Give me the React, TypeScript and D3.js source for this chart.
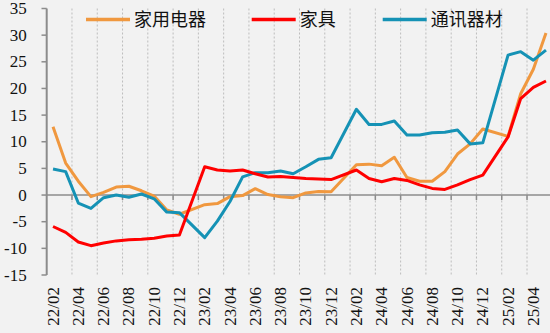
import React from "react";
import * as d3 from "d3";

const months = [
  "22/02","22/03","22/04","22/05","22/06","22/07","22/08","22/09","22/10","22/11","22/12",
  "23/01","23/02","23/03","23/04","23/05","23/06","23/07","23/08","23/09","23/10","23/11","23/12",
  "24/01","24/02","24/03","24/04","24/05","24/06","24/07","24/08","24/09","24/10","24/11","24/12",
  "25/01","25/02","25/03","25/04","25/05",
];

const appliances: (number | null)[] = [
  12.8, 6.0, 2.6, -0.3, 0.5, 1.5, 1.65, 0.8, -0.2, -2.8, -3.6,
  null, -1.8, -1.6, -0.3, -0.1, 1.2, 0.1, -0.3, -0.5, 0.4, 0.65, 0.6,
  null, 5.7, 5.8, 5.5, 7.1, 3.3, 2.6, 2.6, 4.4, 7.7, 9.6, 12.4,
  null, 11.0, 19.0, 23.6, 30.4,
];

const furniture: (number | null)[] = [
  -5.9, -7.0, -8.8, -9.5, -9.0, -8.6, -8.4, -8.3, -8.1, -7.7, -7.5,
  null, 5.3, 4.7, 4.5, 4.7, 4.0, 3.4, 3.5, 3.3, 3.1, 3.0, 2.9,
  null, 4.7, 3.1, 2.5, 3.1, 2.75, 1.9, 1.25, 1.05, 1.9, 2.9, 3.75,
  null, 10.9, 18.1, 20.2, 21.4,
];

const telecom: (number | null)[] = [
  4.9, 4.4, -1.5, -2.5, -0.5, 0.0, -0.4, 0.2, -0.7, -3.2, -3.3,
  null, -8.0, -4.9, -1.2, 3.4, 4.2, 4.2, 4.5, 4.0, 5.3, 6.7, 7.0,
  null, 16.1, 13.25, 13.25, 13.9, 11.25, 11.25, 11.7, 11.8, 12.2, 9.6, 9.8,
  null, 26.25, 26.9, 25.3, 27.2,
];

const seriesNames = ["家用电器", "家具", "通讯器材"];
const yTicks = [-15, -10, -5, 0, 5, 10, 15, 20, 25, 30, 35];

const W = 550;
const H = 333;
const COLORS = ["#F0983F", "#FF0000", "#1592B5"];

export default function App() {
  const x = d3.scaleBand<string>().domain(months).range([46.7, 552.3]).padding(0);
  const bw = x.bandwidth();
  const cx = (m: string) => (x(m) as number) + bw / 2;
  const y = d3.scaleLinear().domain([-15, 35]).range([275, 8.5]);

  const makePath = (vals: (number | null)[]) => {
    const pts = months
      .map((m, i) => ({ m, v: vals[i] }))
      .filter((d) => d.v !== null) as { m: string; v: number }[];
    return d3
      .line<{ m: string; v: number }>()
      .x((d) => cx(d.m))
      .y((d) => y(d.v))(pts) as string;
  };

  const series = [appliances, furniture, telecom];
  const drawOrder = [0, 2, 1];

  const gridIdx = months.map((_, i) => i).filter((i) => i > 0 && i % 2 === 0);
  const labelIdx = months.map((_, i) => i).filter((i) => i % 2 === 0);

  const legendX = [86, 251.7, 382.7];
  const axisColor = "#8C8C8C";

  return (
    <svg
      width={W}
      height={H}
      style={{ position: "absolute", left: 0, top: 0, display: "block" }}
    >
      <rect x={0} y={0} width={W} height={H} fill="#F2F2F2" />
      {gridIdx.map((i) => (
        <line
          key={"g" + i}
          x1={x(months[i])}
          x2={x(months[i])}
          y1={y(35)}
          y2={y(-15)}
          stroke="#BDBDBD"
          strokeWidth={1}
          strokeDasharray="2 2"
        />
      ))}
      {/* x axis at zero */}
      <line x1={46.7} x2={552.3} y1={y(0)} y2={y(0)} stroke={axisColor} strokeWidth={1.5} />
      {gridIdx.map((i) => (
        <line
          key={"t" + i}
          x1={x(months[i])}
          x2={x(months[i])}
          y1={y(0)}
          y2={y(0) + 5}
          stroke={axisColor}
          strokeWidth={1.5}
        />
      ))}
      {/* y axis */}
      <line x1={46.7} x2={46.7} y1={y(35)} y2={y(-15)} stroke={axisColor} strokeWidth={2} />
      {yTicks.map((t) => (
        <g key={"y" + t}>
          <line x1={41.5} x2={46.7} y1={y(t)} y2={y(t)} stroke={axisColor} strokeWidth={1.5} />
          <text
            x={26.7}
            y={y(t)}
            dy="0.33em"
            textAnchor="end"
            fontFamily="'Liberation Serif', 'Times New Roman', serif"
            fontSize={17}
            fill="#111"
          >
            {t}
          </text>
        </g>
      ))}
      {labelIdx.map((i) => (
        <text
          key={"xl" + i}
          transform={`translate(${cx(months[i]) + 5.6},287) rotate(-90)`}
          textAnchor="end"
          fontFamily="'Liberation Serif', 'Times New Roman', serif"
          fontSize={17}
          fill="#111"
        >
          {months[i]}
        </text>
      ))}
      {drawOrder.map((s) => (
        <path
          key={"s" + s}
          d={makePath(series[s])}
          fill="none"
          stroke={COLORS[s]}
          strokeWidth={3}
          strokeLinejoin="round"
        />
      ))}
      {seriesNames.map((n, i) => (
        <g key={"lg" + i}>
          <line
            x1={legendX[i]}
            x2={legendX[i] + 44}
            y1={19.5}
            y2={19.5}
            stroke={COLORS[i]}
            strokeWidth={3.3}
          />
          <text
            x={legendX[i] + 48}
            y={20}
            dy="0.36em"
            fontFamily="'Noto Sans CJK SC', sans-serif"
            fontSize={18}
            fill="#111"
          >
            {n}
          </text>
        </g>
      ))}
    </svg>
  );
}
